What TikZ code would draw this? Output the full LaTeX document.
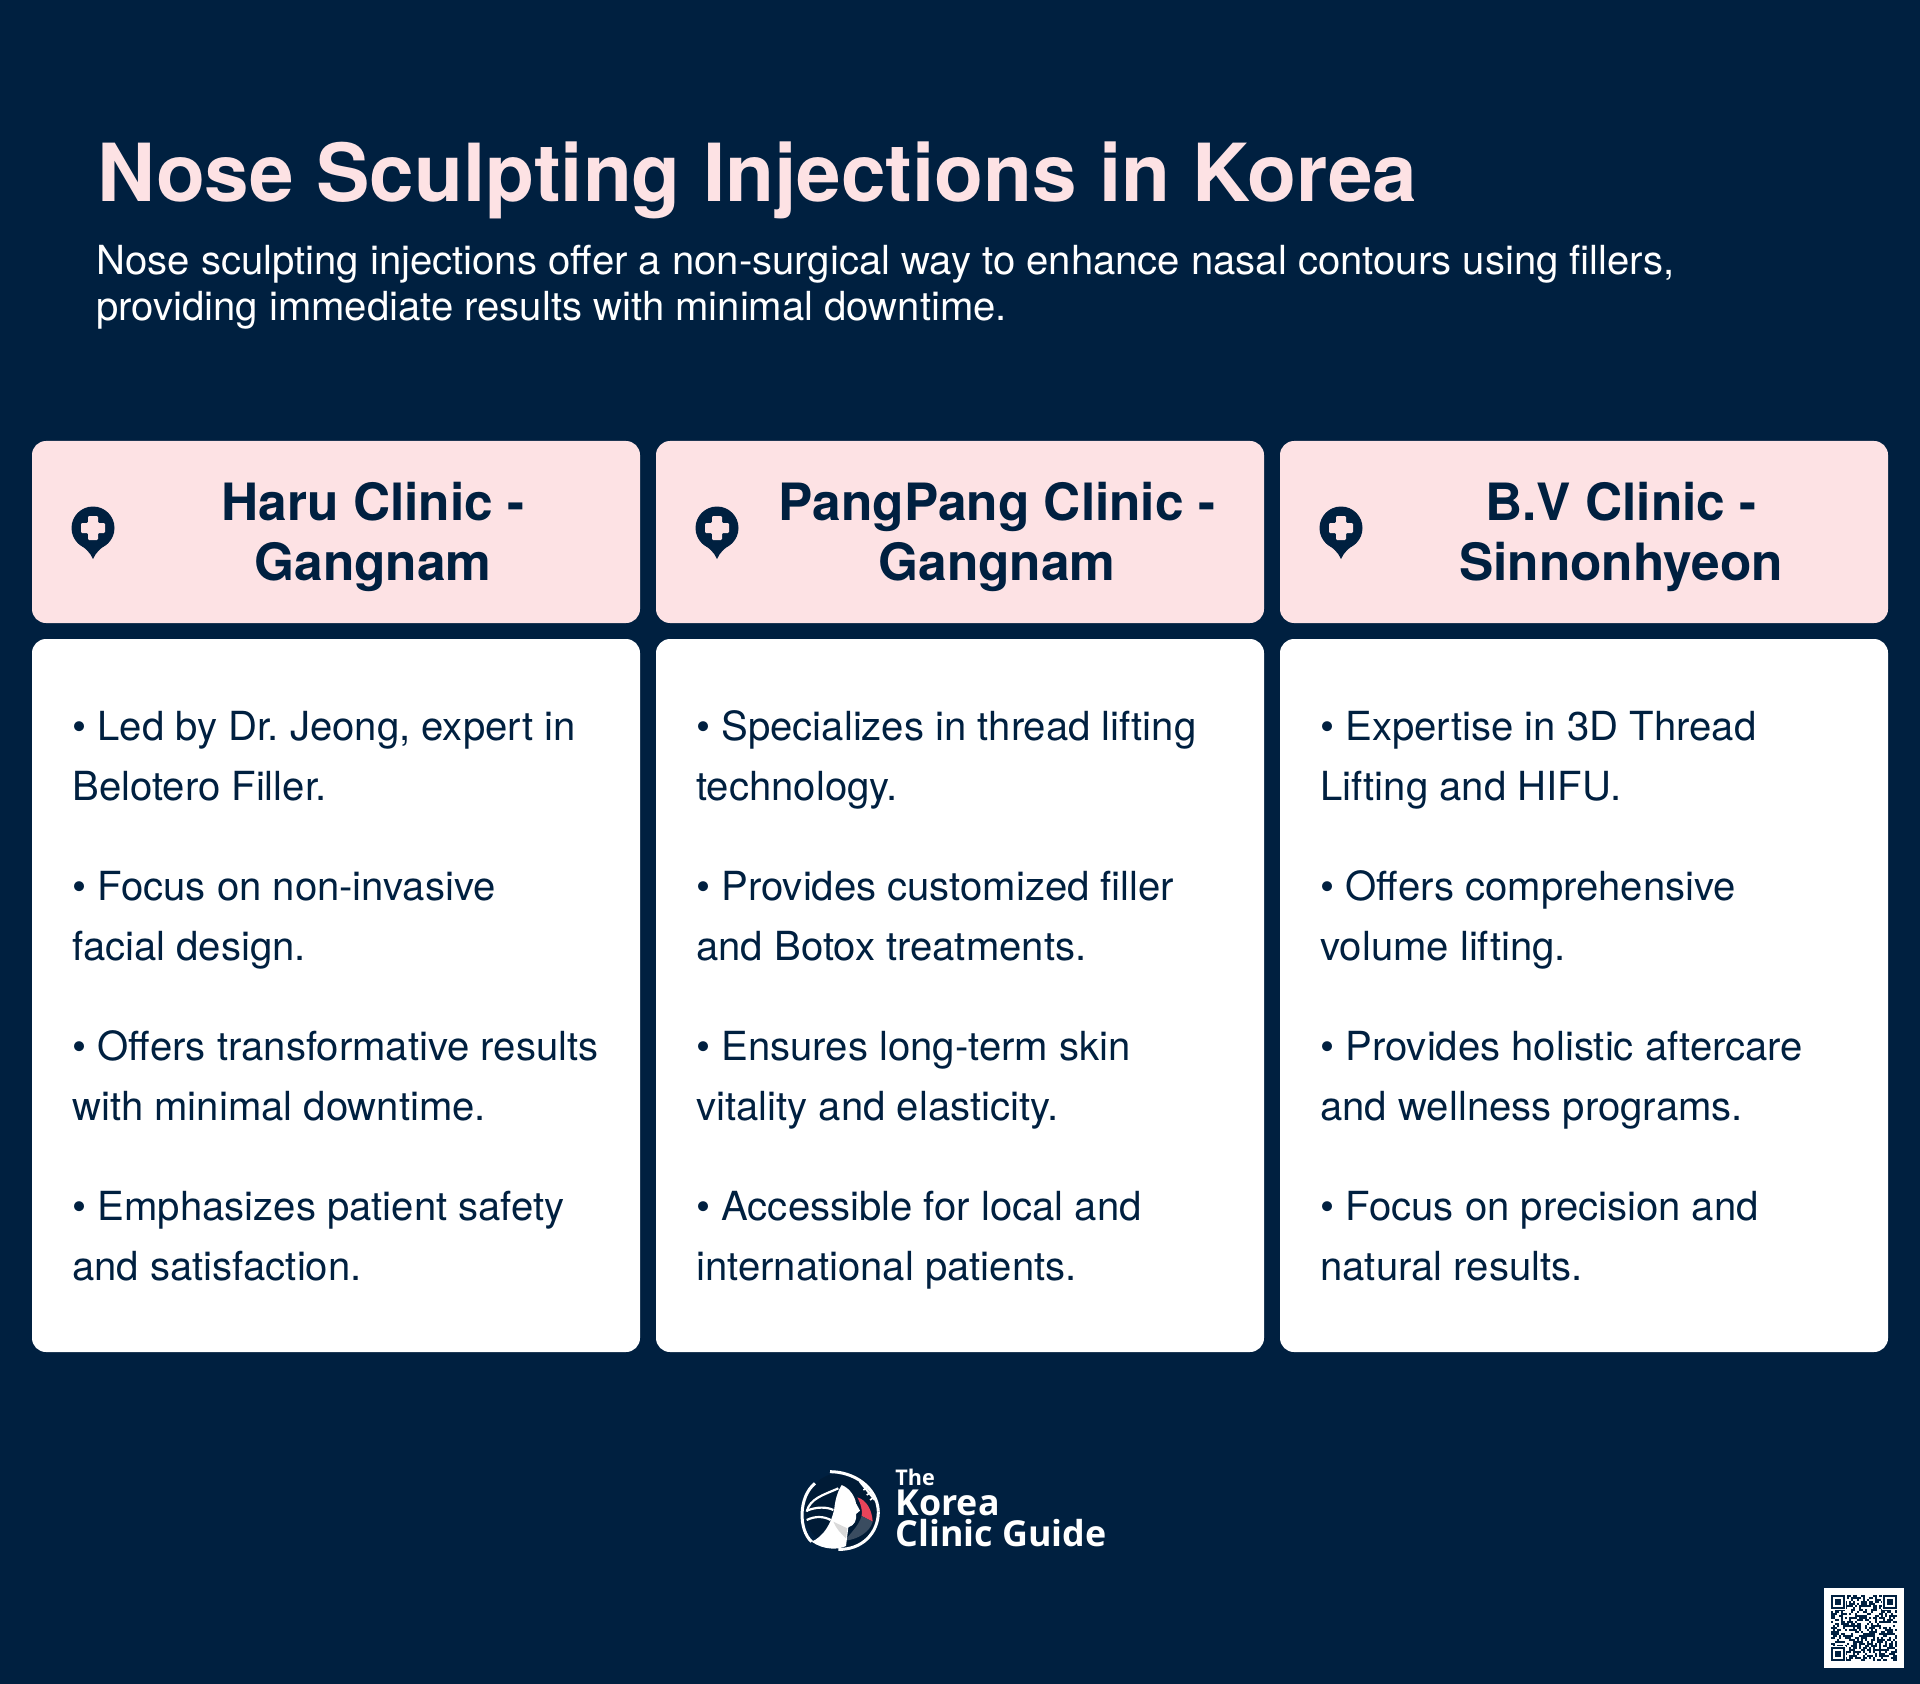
\documentclass[tikz,border=0pt]{standalone}
\usepackage{fontspec}
\setmainfont{TeX Gyre Heros}
\newfontfamily\logofont{Open Sans}[BoldFont={Open Sans Bold}]
\definecolor{navy}{HTML}{002040}
\definecolor{blush}{HTML}{FDE2E4}
\definecolor{logored}{HTML}{E8445A}
\definecolor{logogray}{HTML}{3A4C60}
\tikzset{
	cardhead/.style={fill=blush, rounded corners=7pt},
	cardbody/.style={fill=white, rounded corners=7pt},
	headtext/.style={anchor=base, align=center, text=navy, inner sep=0pt, font=\fontsize{25.7}{30}\selectfont\bfseries},
	bodytext/.style={anchor=base west, align=left, text=navy, inner sep=0pt, font=\fontsize{20.04}{30}\selectfont\frenchspacing},
	logotext/.style={anchor=base west, align=left, text=white, inner sep=0pt},
}
\def\clinicpin(#1,#2){
	\begin{scope}[shift={(#1,#2)}]
		\fill[navy] (0, 0) circle (21.5);
		\fill[navy] (-15, 15) .. controls (-8, 20) and (-3, 24) .. (0, 31) .. controls (3, 24) and (8, 20) .. (15, 15) -- cycle;
		\fill[blush, rounded corners=0.6pt] (-5, -12) -- (5, -12) -- (5, -5) -- (12, -5) -- (12, 5) -- (5, 5) -- (5, 12) -- (-5, 12) -- (-5, 5) -- (-12, 5) -- (-12, -5) -- (-5, -5) -- cycle;
	\end{scope}
}

\begin{document}
\begin{tikzpicture}[x=0.5pt, y=-0.5pt]
	%%%%% BACKGROUND %%%%%
	\fill[navy] (0, 0) rectangle (1920, 1684);
	\useasboundingbox (0, 0) rectangle (1920, 1684);

	%%%%% TITLE %%%%%
	\node[anchor=base west, inner sep=0pt, text=blush, font=\fontsize{40.05}{46}\selectfont\bfseries] (title) at (97, 202) {Nose Sculpting Injections in Korea};
	\node[anchor=base west, align=left, inner sep=0pt, text=white, font=\fontsize{20.04}{23}\selectfont] (intro) at (96, 321) {Nose sculpting injections offer a non-surgical way to enhance nasal contours using fillers,\\providing immediate results with minimal downtime.};

	%%%%% LEFT CARD %%%%%
	\fill[cardhead] (32, 441) rectangle (640, 623);
	\fill[cardbody] (32, 639) rectangle (640, 1352);
	\clinicpin(93, 528)
	\node[headtext] (haru) at (373, 580) {Haru Clinic -\\Gangnam};
	\node[bodytext] (haruA) at (72, 800) {• Led by Dr. Jeong, expert in\\Belotero Filler.};
	\node[bodytext] (haruB) at (72, 960) {• Focus on non-invasive\\facial design.};
	\node[bodytext] (haruC) at (72, 1120) {• Offers transformative results\\with minimal downtime.};
	\node[bodytext] (haruD) at (72, 1280) {• Emphasizes patient safety\\and satisfaction.};

	%%%%% MIDDLE CARD %%%%%
	\fill[cardhead] (656, 441) rectangle (1264, 623);
	\fill[cardbody] (656, 639) rectangle (1264, 1352);
	\clinicpin(717, 528)
	\node[headtext] (pang) at (997, 580) {PangPang Clinic -\\Gangnam};
	\node[bodytext] (pangA) at (696, 800) {• Specializes in thread lifting\\technology.};
	\node[bodytext] (pangB) at (696, 960) {• Provides customized filler\\and Botox treatments.};
	\node[bodytext] (pangC) at (696, 1120) {• Ensures long-term skin\\vitality and elasticity.};
	\node[bodytext] (pangD) at (696, 1280) {• Accessible for local and\\international patients.};

	%%%%% RIGHT CARD %%%%%
	\fill[cardhead] (1280, 441) rectangle (1888, 623);
	\fill[cardbody] (1280, 639) rectangle (1888, 1352);
	\clinicpin(1341, 528)
	\node[headtext] (bv) at (1621, 580) {B.V Clinic -\\Sinnonhyeon};
	\node[bodytext] (bvA) at (1320, 800) {• Expertise in 3D Thread\\Lifting and HIFU.};
	\node[bodytext] (bvB) at (1320, 960) {• Offers comprehensive\\volume lifting.};
	\node[bodytext] (bvC) at (1320, 1120) {• Provides holistic aftercare\\and wellness programs.};
	\node[bodytext] (bvD) at (1320, 1280) {• Focus on precision and\\natural results.};

	%%%%% LOGO %%%%%
	\begin{scope}[shift={(770, 1440)}, x=0.16667pt, y=-0.16667pt]
		\fill[navy!85!black] (215, 210) circle (112);
		\fill[logored] (262, 172) .. controls (290, 180) and (306, 210) .. (308, 245) -- (275, 228) .. controls (278, 210) and (272, 190) .. (262, 172) -- cycle;
		\fill[logogray] (275, 228) -- (308, 245) .. controls (300, 275) and (265, 298) .. (225, 302) .. controls (240, 280) and (265, 260) .. (275, 228) -- cycle;
		\fill[white] (215, 135) .. controls (240, 145) and (255, 170) .. (258, 190) -- (270, 212) -- (258, 222) .. controls (260, 240) and (255, 255) .. (235, 262) -- (228, 318) .. controls (205, 330) and (160, 330) .. (125, 305) .. controls (160, 290) and (185, 250) .. (193, 205) .. controls (196, 175) and (205, 150) .. (215, 135) -- cycle;
		\fill[black!15] (190, 245) -- (232, 265) -- (228, 295) .. controls (212, 280) and (198, 265) .. (190, 245) -- cycle;
		\draw[white, line width=1.5pt] (180, 95) .. controls (250, 95) and (322, 140) .. (325, 215);
		\draw[white, line width=1.5pt] (325, 215) .. controls (325, 280) and (275, 330) .. (205, 328);
		\draw[white, line width=1.5pt] (125, 305) .. controls (85, 270) and (85, 170) .. (135, 130);
		\draw[white, line width=1.1pt] (205, 145) .. controls (160, 165) and (120, 175) .. (110, 215);
		\draw[white, line width=1.1pt] (110, 212) .. controls (140, 200) and (170, 200) .. (190, 210);
		\draw[white, line width=1.1pt] (110, 240) .. controls (135, 228) and (160, 228) .. (182, 240);
		\draw[white, line width=1.1pt] (270, 125) -- (315, 180);
		\draw[white, line width=0.8pt] (280, 150) -- (295, 140) (290, 165) -- (305, 155) (300, 180) -- (315, 170);
	\end{scope}
	\node[logotext, font=\logofont\fontsize{10.8}{11}\selectfont\bfseries] (logoThe) at (895, 1485) {The};
	\node[logotext, font=\logofont\fontsize{17.9}{15.5}\selectfont\bfseries] (logoName) at (895, 1546) {Korea\\Clinic Guide};

	%%%%% QR %%%%%
	\fill[white] (1824, 1588) rectangle (1904, 1668);
	\pgfmathsetseed{1684}
	\foreach \i in {0,...,32}
		\foreach \j in {0,...,32}{
			\pgfmathparse{rnd<0.5 ? 1 : 0}
			\ifnum\pgfmathresult=1
				\fill[navy] ({1831+2*\i}, {1595+2*\j}) rectangle ++(2, 2);
			\fi
		}
	\foreach \fx/\fy in {1831/1595, 1883/1595, 1831/1647}{
		\fill[white] (\fx-1, \fy-1) rectangle ++(16, 16);
		\fill[navy] (\fx, \fy) rectangle ++(14, 14);
		\fill[white] (\fx+2, \fy+2) rectangle ++(10, 10);
		\fill[navy] (\fx+4, \fy+4) rectangle ++(6, 6);
	}
\end{tikzpicture}
\end{document}
